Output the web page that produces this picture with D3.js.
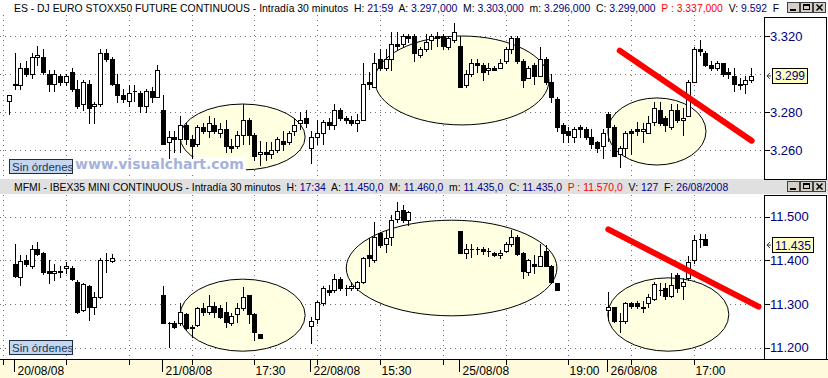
<!DOCTYPE html>
<html>
<head>
<meta charset="utf-8">
<script src="https://cdn.jsdelivr.net/npm/d3@7"></script>
<style>
  body { margin: 0; background: #fff; }
  svg { display: block; }
  text { font-family: "Liberation Sans", Arial, sans-serif; }
</style>
</head>
<body>
<svg id="chart"></svg>
<script>
//EURO STOXX 50 future, 30 min bars [open, high, low, close]
//first bar is the last one of 19/08 (bar index -1)
const esStart = -1;
const esBars = [
  [3286,3289,3279,3289],
  [3295,3311,3292,3294],[3294,3306,3292,3303],[3303,3307,3299,3300],[3300,3311,3298,3309],
  [3309,3315,3305,3310],[3309,3313,3300,3301],[3300,3302,3291,3295],[3295,3302,3291,3300],
  [3299,3300,3294,3296],[3296,3300,3294,3299],[3301,3303,3291,3292],[3292,3297,3282,3283],
  [3284,3297,3281,3296],[3295,3297,3274,3282],[3283,3285,3274,3284],[3284,3313,3283,3311],
  [3311,3313,3307,3308],[3308,3309,3294,3295],[3295,3300,3285,3289],[3289,3292,3285,3287],
  [3286,3294,3283,3290],[3291,3294,3286,3291],[3290,3291,3280,3283],[3283,3292,3280,3291],
  [3291,3293,3285,3288],[3288,3305,3288,3302],
  [3281,3289,3263,3263],[3264,3270,3256,3267],[3267,3270,3259,3266],[3266,3278,3259,3273],
  [3273,3274,3263,3266],[3266,3268,3256,3262],[3263,3273,3262,3272],[3272,3274,3269,3270],
  [3270,3278,3267,3274],[3273,3277,3269,3270],[3269,3274,3267,3271],[3271,3276,3259,3262],
  [3262,3266,3259,3261],[3262,3270,3261,3268],[3268,3284,3263,3276],[3276,3277,3263,3268],
  [3268,3269,3255,3257],[3258,3265,3252,3259],[3259,3264,3255,3258],[3258,3264,3256,3260],
  [3260,3267,3259,3266],[3265,3270,3260,3263],[3264,3270,3263,3269],[3270,3277,3268,3273],
  [3274,3280,3271,3276],[3277,3281,3272,3274],
  [3261,3270,3253,3267],[3267,3276,3263,3269],[3269,3276,3263,3275],[3275,3277,3271,3273],
  [3273,3284,3271,3281],[3281,3282,3276,3277],[3277,3278,3274,3276],[3276,3278,3273,3274],
  [3274,3279,3270,3276],[3276,3306,3276,3295],[3296,3301,3292,3295],[3293,3311,3293,3306],
  [3308,3313,3302,3303],[3303,3313,3302,3308],[3308,3322,3302,3316],[3316,3322,3313,3315],
  [3316,3321,3314,3320],[3320,3321,3317,3319],[3320,3321,3307,3311],[3310,3314,3309,3313],
  [3313,3321,3312,3317],[3318,3321,3313,3320],[3320,3322,3315,3319],[3320,3321,3313,3315],
  [3314,3320,3313,3319],[3318,3327,3317,3322],
  [3315,3320,3293,3293],[3294,3302,3293,3300],[3300,3308,3299,3306],[3306,3308,3301,3305],
  [3305,3306,3297,3301],[3302,3306,3300,3303],[3303,3304,3302,3302],[3303,3308,3303,3306],
  [3307,3314,3306,3313],[3313,3320,3311,3319],[3319,3320,3306,3307],[3307,3308,3293,3297],
  [3298,3304,3298,3303],[3305,3306,3295,3299],[3299,3314,3299,3308],[3308,3309,3295,3296],
  [3296,3300,3285,3288],[3287,3288,3270,3272],[3273,3274,3264,3269],[3270,3272,3264,3268],
  [3267,3272,3264,3271],[3272,3273,3267,3271],[3271,3272,3266,3267],[3267,3271,3261,3263],
  [3264,3265,3259,3261],[3262,3271,3256,3269],
  [3279,3280,3265,3272],[3272,3273,3257,3257],[3258,3262,3251,3261],[3261,3270,3257,3269],
  [3270,3271,3258,3269],[3271,3275,3268,3270],[3270,3274,3264,3271],[3269,3278,3269,3274],
  [3275,3285,3273,3282],[3281,3285,3273,3274],[3277,3278,3270,3273],[3272,3284,3271,3281],
  [3281,3284,3275,3276],[3276,3282,3268,3277],[3278,3297,3278,3296],[3296,3314,3296,3313],
  [3313,3318,3310,3312],[3311,3312,3304,3305],[3305,3307,3302,3303],[3303,3307,3302,3306],
  [3306,3306,3299,3300],[3301,3303,3298,3300],[3299,3303,3291,3295],[3295,3298,3292,3294],
  [3295,3299,3290,3297],[3297,3303,3296,3299]
];

//IBEX35 mini, one block per session, each session starts at the bar index in ibexStarts
const ibexStarts = [0, 26, 52, 78, 104];
const ibexDay1 = [
  [11392,11437,11363,11365],[11361,11412,11344,11399],[11401,11412,11386,11391],[11387,11435,11382,11426],
  [11426,11443,11412,11415],[11416,11420,11368,11374],[11376,11401,11348,11370],[11370,11391,11355,11376],
  [11374,11386,11363,11376],[11382,11397,11370,11387],[11383,11386,11355,11357],[11350,11355,11279,11281],
  [11286,11348,11283,11345],[11341,11344,11264,11294],[11294,11328,11277,11316],[11316,11405,11313,11401],
  [11400,11416,11374,11401],[11399,11414,11397,11405]
];
const ibexDay2 = [
  [11321,11342,11256,11256],[11257,11260,11202,11256],[11256,11261,11246,11247],[11256,11302,11252,11281],
  [11277,11279,11241,11246],[11247,11252,11225,11246],[11252,11294,11250,11290],[11290,11302,11275,11281],
  [11281,11321,11277,11296],[11296,11305,11271,11281],[11292,11298,11267,11271],[11281,11305,11248,11260],
  [11256,11279,11252,11273],[11277,11302,11260,11290],[11290,11340,11286,11317],[11321,11321,11256,11277],
  [11277,11279,11218,11235],[11231,11231,11222,11222]
];
const ibexDay3 = [
  [11250,11271,11210,11261],[11266,11307,11256,11305],[11302,11342,11298,11336],[11332,11344,11321,11327],
  [11332,11368,11328,11357],[11357,11363,11332,11336],[11337,11344,11321,11336],[11336,11350,11332,11342],
  [11336,11353,11332,11350],[11350,11408,11348,11405],[11412,11451,11386,11405],[11401,11489,11397,11454],
  [11462,11466,11431,11435],[11437,11470,11420,11452],[11454,11504,11435,11493],[11495,11533,11489,11512],
  [11515,11527,11489,11493],[11493,11513,11481,11510]
];
const ibexDay4 = [
  [11467,11467,11416,11416],[11416,11437,11405,11426],[11426,11437,11408,11426],[11426,11431,11414,11426],
  [11426,11431,11414,11422],[11422,11428,11411,11422],[11416,11420,11411,11412],[11412,11424,11406,11416],
  [11422,11443,11419,11437],[11437,11470,11434,11454],[11454,11458,11412,11414],[11416,11420,11360,11376],
  [11373,11403,11367,11401],[11391,11412,11370,11386],[11388,11437,11386,11411],[11422,11435,11386,11388],
  [11388,11389,11348,11350],[11348,11348,11332,11332]
];
const ibexDay5 = [
  [11286,11328,11264,11294],[11294,11294,11260,11261],[11261,11279,11235,11261],[11261,11305,11256,11302],
  [11302,11305,11292,11296],[11302,11307,11290,11296],[11290,11307,11281,11294],[11302,11322,11294,11315],
  [11312,11350,11309,11345],[11332,11348,11321,11332],[11336,11348,11312,11319],[11319,11370,11315,11344],
  [11367,11370,11328,11336],[11342,11360,11312,11350],[11359,11411,11355,11396],[11401,11458,11393,11447],
  [11450,11460,11431,11450],[11450,11460,11435,11435]
];
const ibexDays = [ibexDay1, ibexDay2, ibexDay3, ibexDay4, ibexDay5];

//x axis labels
const dayLabels = ['20/08/08', '21/08/08', '22/08/08', '25/08/08', '26/08/08'];
const timeTicks = [42, 64, 97, 119];
const timeLabels = ['17:30', '15:30', '19:00', '17:00'];

//price axis ticks
const esTicks = [3320, 3300, 3280, 3260];
const ibexTicks = [11500, 11400, 11300, 11200];

//hand drawn ellipses: [first bar, last bar, top price, bottom price]
const esCircles = [[29, 50.9, 3284.2, 3249.5], [63.1, 93.6, 3320, 3273.2], [103.9, 121.1, 3287.4, 3252.1]];
const ibexCircles = [[29, 50.9, 11357, 11192], [58.1, 95, 11492, 11273], [103.9, 125.1, 11360, 11192]];
//red trend lines: [bar, price, bar, price]
const esTrend = [106, 3312.3, 129.1, 3264.9];
const ibexTrend = [104, 11471, 130.3, 11294];

//header extras
const esTime = '21:59', esPrev = 3337, esVolume = '9.592';
const ibexTime = '17:34', ibexPrev = 11570, ibexVolume = '127', ibexDate = '26/08/2008';

function buildChart() {
    const width = 828;
    const height = 378;
    const svg = d3.select('#chart').attr('width', width).attr('height', height);

    const blue = '#000080';
    const plotRight = 764;

    //spanish number format: 3.299 / 3.297,000
    const es = d3.formatLocale({decimal: ',', thousands: '.', grouping: [3], currency: ['', '']});
    const fmtInt = es.format(',');
    const fmt3 = es.format(',.3f');
    const fmt1 = es.format(',.1f');

    //one scale for bar position, shared by both panels
    const x = d3.scaleLinear().domain([0, 129]).range([14.5, 751.1]);
    const yTop = d3.scaleLinear().domain([3260, 3320]).range([150, 36]);
    const yBot = d3.scaleLinear().domain([11200, 11500]).range([347.7, 216.7]);

    const px = i => Math.round(x(i)) + 0.5;

    const esData = esBars.map((b, k) => ({i: esStart + k, o: b[0], h: b[1], l: b[2], c: b[3]}));
    const ibexData = [];
    ibexDays.forEach((day, d) => {
        day.forEach((b, k) => ibexData.push({i: ibexStarts[d] + k, o: b[0], h: b[1], l: b[2], c: b[3]}));
    });

    //backgrounds
    svg.append('rect').attr('width', width).attr('height', height).attr('fill', '#fff');
    svg.append('rect').attr('x', 0).attr('y', 179).attr('width', width).attr('height', 15).attr('fill', '#e0e0e0');

    const panels = [
        {top: 17, gridTop: 15, bottom: 179, y: yTop, ticks: esTicks, data: esData, circles: esCircles, trend: esTrend,
         last: esData[esData.length - 1].c, sinY: 159.5},
        {top: 195, gridTop: 195, bottom: 359, y: yBot, ticks: ibexTicks, data: ibexData, circles: ibexCircles, trend: ibexTrend,
         last: ibexData[ibexData.length - 1].c, sinY: 340.5}
    ];

    const gridBars = d3.range(-2, 130, 11);

    panels.forEach((p, n) => {
        const g = svg.append('g');

        //dotted grid
        const grid = g.append('g').attr('stroke', '#707070').attr('stroke-dasharray', '1,4').attr('shape-rendering', 'crispEdges');
        grid.selectAll('line.h').data(p.ticks).enter().append('line')
            .attr('x1', 0).attr('x2', plotRight)
            .attr('y1', d => Math.round(p.y(d)) + 0.5).attr('y2', d => Math.round(p.y(d)) + 0.5);
        grid.selectAll('line.v').data(gridBars).enter().append('line')
            .attr('x1', d => px(d)).attr('x2', d => px(d))
            .attr('y1', p.gridTop).attr('y2', p.bottom);

        //ellipses
        g.selectAll('ellipse').data(p.circles).enter().append('ellipse')
            .attr('cx', d => x((d[0] + d[1]) / 2))
            .attr('cy', d => p.y((d[2] + d[3]) / 2))
            .attr('rx', d => (x(d[1]) - x(d[0])) / 2)
            .attr('ry', d => Math.abs(p.y(d[2]) - p.y(d[3])) / 2)
            .attr('fill', '#ffffe1').attr('stroke', '#000').attr('stroke-width', 1);

        //watermark only on the top panel
        if (n === 0) {
            g.append('rect').attr('x', 74).attr('y', 157).attr('width', 172).attr('height', 14).attr('fill', '#fff');
            g.append('text').attr('x', 75).attr('y', 169)
                .style('font-family', '"DejaVu Sans", sans-serif').style('font-weight', 'bold').style('font-size', '14px')
                .attr('fill', '#a6b2dc').text('www.visualchart.com');
        }

        //candles
        const cg = g.append('g').attr('shape-rendering', 'crispEdges');
        const bars = cg.selectAll('g').data(p.data).enter().append('g');
        bars.append('line')
            .attr('x1', d => px(d.i)).attr('x2', d => px(d.i))
            .attr('y1', d => Math.round(p.y(d.h))).attr('y2', d => Math.round(p.y(d.l)) + 1)
            .attr('stroke', '#000');
        bars.append('path')
            .attr('d', d => {
                const t = Math.round(p.y(Math.max(d.o, d.c))) + 0.5;
                const b = Math.round(p.y(Math.min(d.o, d.c))) + 0.5;
                const l = px(d.i) - 2, r = px(d.i) + 2;
                return `M${l},${t}H${r}V${b}H${l}Z`;
            })
            .attr('fill', d => d.c < d.o ? '#000' : '#fff')
            .attr('stroke', '#000');

        //red trend line
        g.append('line')
            .attr('x1', x(p.trend[0])).attr('y1', p.y(p.trend[1]))
            .attr('x2', x(p.trend[2])).attr('y2', p.y(p.trend[3]))
            .attr('stroke', '#ff0000').attr('stroke-width', 6).attr('stroke-linecap', 'round');

        //"Sin órdenes" button
        g.append('rect').attr('x', 9.5).attr('y', p.sinY).attr('width', 63).attr('height', 14)
            .attr('fill', '#c6d6ee').attr('stroke', '#1d2d45').attr('shape-rendering', 'crispEdges');
        g.append('text').attr('x', 12).attr('y', p.sinY + 11).style('font-size', '11.5px')
            .attr('fill', '#173a5a').text('Sin órdenes');

        //price axis box
        const ax = g.append('g');
        ax.append('rect').attr('x', plotRight + 0.5).attr('y', p.top + 0.5)
            .attr('width', 62).attr('height', p.bottom - p.top)
            .attr('fill', '#fff').attr('stroke', '#000').attr('shape-rendering', 'crispEdges');

        const lastY = p.y(p.last);
        const tk = ax.selectAll('g.tick').data(p.ticks.filter(t => Math.abs(p.y(t) - lastY) > 10))
            .enter().append('g');
        tk.append('line').attr('x1', plotRight).attr('x2', plotRight + 6)
            .attr('y1', d => Math.round(p.y(d)) + 0.5).attr('y2', d => Math.round(p.y(d)) + 0.5)
            .attr('stroke', '#000').attr('shape-rendering', 'crispEdges');
        tk.append('text').attr('x', plotRight + 6).attr('y', d => p.y(d) + 4.5)
            .style('font-size', '13px').attr('fill', blue).text(d => fmtInt(d));

        //last price box
        const lbl = ax.append('text').attr('x', plotRight + 11).attr('y', lastY + 4.5)
            .style('font-size', '12px').attr('fill', blue).text(fmtInt(p.last));
        const w = lbl.node().getComputedTextLength();
        ax.append('rect')
            .attr('x', plotRight + 8.5).attr('y', Math.round(lastY) - 7.5)
            .attr('width', Math.round(w) + 5).attr('height', 15)
            .attr('fill', '#ffffc0').attr('stroke', '#000').attr('shape-rendering', 'crispEdges');
        lbl.raise();
        ax.append('path')
            .attr('d', `M${plotRight + 6},${lastY - 3}L${plotRight + 3},${lastY}L${plotRight + 6},${lastY + 3}M${plotRight + 3},${lastY}H${plotRight + 7}`)
            .attr('fill', 'none').attr('stroke', '#333');
    });

    //time axis band
    const xa = svg.append('g').attr('shape-rendering', 'crispEdges');
    xa.append('rect').attr('x', 0).attr('y', 359).attr('width', width).attr('height', 19).attr('fill', '#fffadc');
    xa.append('line').attr('x1', 0).attr('x2', width).attr('y1', 359.5).attr('y2', 359.5).attr('stroke', '#000');
    xa.selectAll('line.t').data(gridBars).enter().append('line')
        .attr('x1', d => px(d)).attr('x2', d => px(d)).attr('y1', 359).attr('y2', 365).attr('stroke', '#000');
    xa.selectAll('line.d').data(ibexStarts).enter().append('line')
        .attr('x1', d => px(d) - 1).attr('x2', d => px(d) - 1).attr('y1', 359).attr('y2', 372).attr('stroke', '#000');
    xa.selectAll('text.d').data(ibexStarts).enter().append('text')
        .attr('x', d => px(d) + 2).attr('y', 375).style('font-size', '12px').attr('fill', '#000')
        .text((d, k) => dayLabels[k]);
    xa.selectAll('text.t').data(timeTicks).enter().append('text')
        .attr('x', d => px(d) + 1).attr('y', 375).style('font-size', '12px').attr('fill', '#000')
        .text((d, k) => timeLabels[k]);

    //title lines
    const esLast = esBars[esBars.length - 1];
    const ibexLast = ibexDay5[ibexDay5.length - 1];
    const esParts = [
        ['ES - DJ EURO STOXX50 FUTURE CONTINUOUS - Intradía 30 minutos  H: ', '#000'], [esTime, blue],
        ['  A: ', '#000'], [fmt3(esLast[0]), blue], ['  M: ', '#000'], [fmt3(esLast[1]), blue],
        ['  m: ', '#000'], [fmt3(esLast[2]), blue], ['  C: ', '#000'], [fmt3(esLast[3]), blue],
        ['  P : ' + fmt3(esPrev), '#ff0000'], ['  V: ', '#000'], [esVolume, blue], ['  F', '#000']
    ];
    const ibexParts = [
        ['MFMI - IBEX35 MINI CONTINUOUS - Intradía 30 minutos  H: ', '#000'], [ibexTime, blue],
        ['  A: ', '#000'], [fmt1(ibexLast[0]), blue], ['  M: ', '#000'], [fmt1(ibexLast[1]), blue],
        ['  m: ', '#000'], [fmt1(ibexLast[2]), blue], ['  C: ', '#000'], [fmt1(ibexLast[3]), blue],
        ['  P : ' + fmt1(ibexPrev), '#ff0000'], ['  V: ', '#000'], [ibexVolume, blue],
        ['  F: ', '#000'], [ibexDate, blue]
    ];
    [[esParts, 12], [ibexParts, 190.5]].forEach(([parts, ty]) => {
        const t = svg.append('text').attr('x', 14).attr('y', ty)
            .style('font-size', '10.4px').style('white-space', 'pre');
        parts.forEach(pt => t.append('tspan').attr('fill', pt[1]).text(pt[0]));
    });

    //window buttons
    [2, 181].forEach(by => {
        const wb = svg.append('g').attr('shape-rendering', 'crispEdges');
        wb.append('rect').attr('x', 784).attr('y', by - 1).attr('width', 44).attr('height', 13)
            .attr('fill', by === 2 ? '#fff' : '#e0e0e0');
        [0, 1, 2].forEach(k => {
            const bx = 787 + k * 13;
            wb.append('rect').attr('x', bx + 0.5).attr('y', by + 0.5).attr('width', 12).attr('height', 10)
                .attr('fill', '#d4d0c8').attr('stroke', '#404040');
            if (k === 0) {
                wb.append('rect').attr('x', bx + 3).attr('y', by + 7).attr('width', 6).attr('height', 2).attr('fill', '#000');
            } else if (k === 1) {
                wb.append('rect').attr('x', bx + 3.5).attr('y', by + 2.5).attr('width', 6).attr('height', 5)
                    .attr('fill', 'none').attr('stroke', '#000');
                wb.append('line').attr('x1', bx + 3).attr('x2', bx + 10).attr('y1', by + 3.5).attr('y2', by + 3.5).attr('stroke', '#000');
            } else {
                wb.append('path').attr('d', `M${bx + 3.5},${by + 2.5}L${bx + 9.5},${by + 8.5}M${bx + 9.5},${by + 2.5}L${bx + 3.5},${by + 8.5}`)
                    .attr('stroke', '#000').attr('stroke-width', 1.5).attr('shape-rendering', 'auto');
            }
        });
    });
}

buildChart();
</script>
</body>
</html>
